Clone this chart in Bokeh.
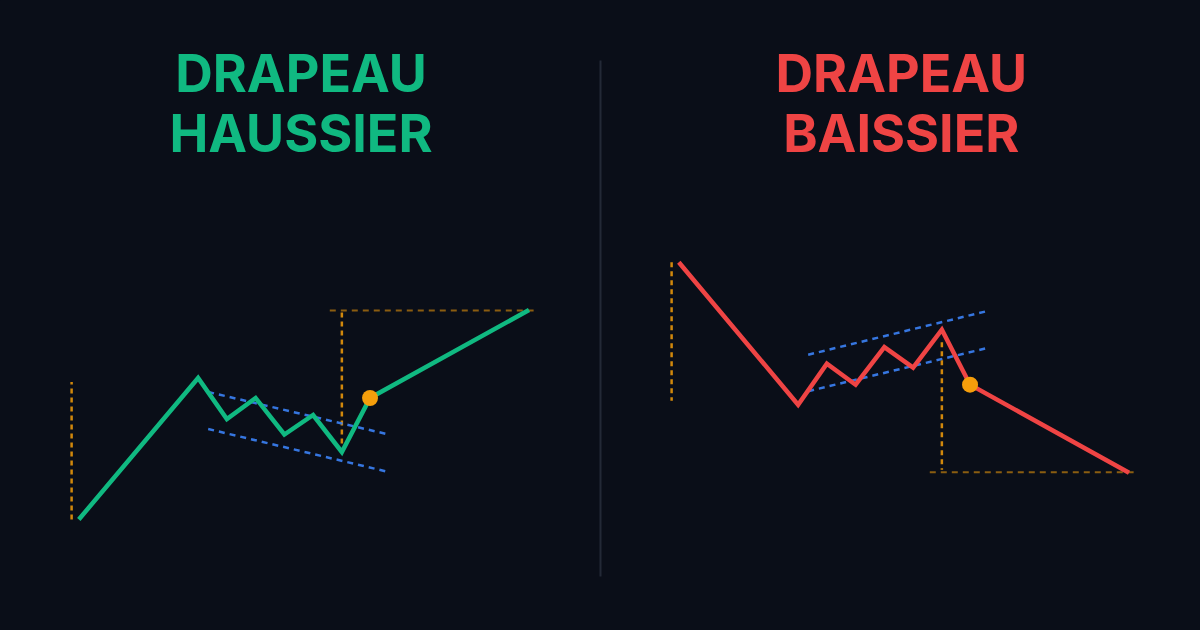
from bokeh.plotting import figure
from bokeh.layouts import row
from bokeh.models import Range1d
from bokeh.core.properties import value
from bokeh.embed import file_html
from bokeh.resources import INLINE

# ---------------- data ----------------
steps = [0, 4.15, 5.15, 6.15, 7.15, 8.15, 9.15, 10.13, 15.66]
bull_price = [100, 128.3, 120.1, 124.3, 117.0, 120.9, 113.5, 124.3, 141.9]
bear_price = [140, 111.5, 119.7, 115.5, 123.0, 118.9, 126.5, 115.5, 97.9]
breakout_index = 7

channel_steps = [4.5, 10.78]
bull_upper = [125.5, 117.0]
bull_lower = [118.1, 109.5]
bear_upper = [121.5, 130.3]
bear_lower = [114.2, 122.9]

pole_step = -0.25
bull_pole = [100.0, 127.5]
bear_pole = [140.0, 112.3]
target_step = 9.15
bull_target = [115.2, 141.8]
bear_target = [124.0, 98.5]
target_span = [8.73, 15.82]
bull_target_level = 141.8
bear_target_level = 98.0

bull_title = ["DRAPEAU", "HAUSSIER"]
bear_title = ["DRAPEAU", "BAISSIER"]

# ---------------- style / layout ----------------
BG = "#0a0e18"
GREEN = "#10b981"
RED = "#ef4444"
ORANGE = "#f59e0b"
BLUE = "#3b82f6"
DIVIDER = "#232936"
FONT = "Inter"

PX_T = 28.75   # pixels per step
PX_P = 5.0     # pixels per price unit
TOP, BOTTOM = 0, 630
TITLE_Y = [72.5, 132.5]


def make_panel(left, width, x0, c, center, prices, color, title, upper, lower,
               pole, target, level, divider=False):
    p = figure(width=width, height=BOTTOM - TOP, output_backend="svg",
               toolbar_location=None, x_axis_location=None, y_axis_location=None,
               min_border=0, outline_line_color=None,
               background_fill_color=BG, border_fill_color=BG,
               x_range=Range1d((left - x0) / PX_T, (left + width - x0) / PX_T),
               y_range=Range1d((c - BOTTOM) / PX_P, (c - TOP) / PX_P))
    p.xgrid.visible = False
    p.ygrid.visible = False

    def tx(px):
        return (px - x0) / PX_T

    def py(px):
        return (c - px) / PX_P

    # titles
    cx = tx(center)
    p.text(x=[cx, cx], y=[py(TITLE_Y[0]), py(TITLE_Y[1])], text=title,
           text_color=color, text_font=value(FONT), text_font_style="bold",
           text_font_size="52px", text_align="center", text_baseline="alphabetic")

    # measure lines
    p.line([pole_step, pole_step], pole, line_color=ORANGE, line_width=2.5,
           line_dash="5 4", line_alpha=0.85)
    p.line([target_step, target_step], target, line_color=ORANGE, line_width=2.5,
           line_dash="5 4", line_alpha=0.85)
    p.line(target_span, [level, level], line_color=ORANGE, line_width=2,
           line_dash="6 5", line_alpha=0.55)

    # channel
    p.line(channel_steps, upper, line_color=BLUE, line_width=2.5,
           line_dash="6 5", line_alpha=0.9)
    p.line(channel_steps, lower, line_color=BLUE, line_width=2.5,
           line_dash="6 5", line_alpha=0.9)

    # price path
    p.line(steps, prices, line_color=color, line_width=4.5, line_join="miter")
    p.scatter([steps[breakout_index]], [prices[breakout_index]], size=16,
              fill_color=ORANGE, line_color=None)

    if divider:
        dx = tx(600)
        p.line([dx, dx], [py(60), py(576)], line_color=DIVIDER, line_width=2)
    return p


left_p = make_panel(0, 604, 78.3, 519 + 100 * PX_P, 300.5, bull_price, GREEN, bull_title,
                    bull_upper, bull_lower, bull_pole, bull_target,
                    bull_target_level, divider=True)
right_p = make_panel(604, 596, 678.3, 261.7 + 140 * PX_P, 900.8, bear_price, RED, bear_title,
                     bear_upper, bear_lower, bear_pole, bear_target,
                     bear_target_level)

layout = row(left_p, right_p, spacing=0)
html = file_html(layout, INLINE, title="Drapeau")
html = html.replace("</head>", "<style>body{background:%s;}</style></head>" % BG, 1)
open("out.html", "w").write(html)
